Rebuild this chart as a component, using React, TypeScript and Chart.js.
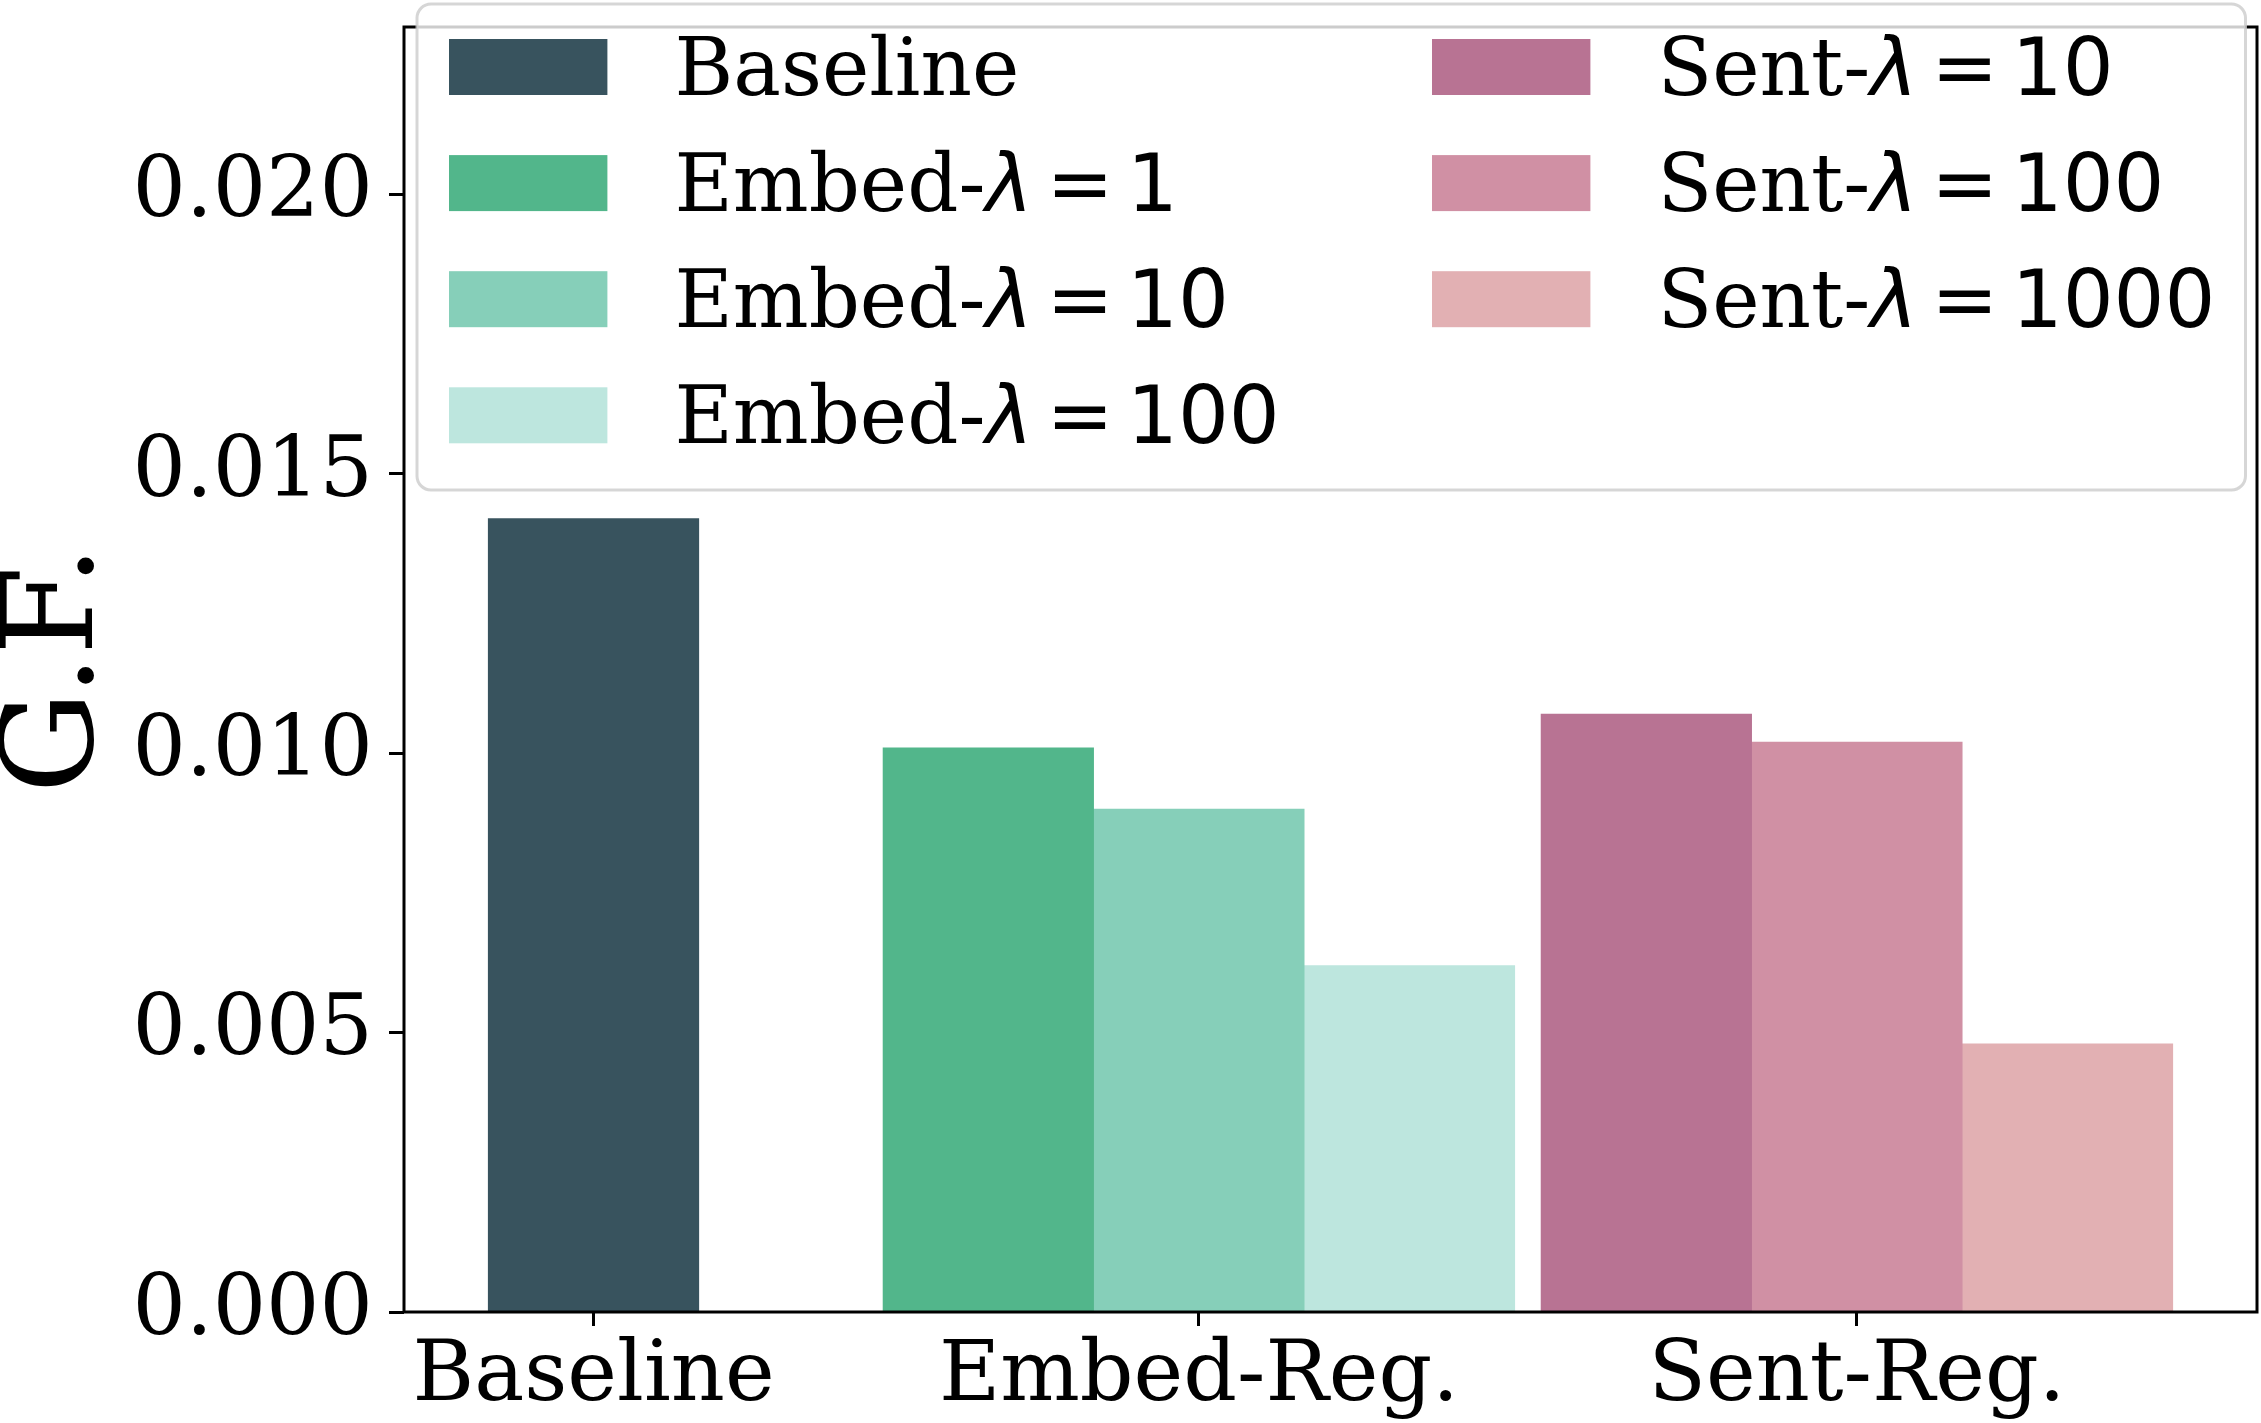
import React, { useEffect, useRef } from 'react';
import { Chart, registerables } from 'chart.js';

Chart.register(...registerables);

// Groups on the x axis and where their centres sit (in bar-width units)
const CATEGORY_LABELS = ['Baseline', 'Embed-Reg.', 'Sent-Reg.'];
const CATEGORY_POSITIONS = [0, 2.875, 6];

// One series per legend entry
const SERIES_LABELS = [
  'Baseline',
  'Embed-λ = 1',
  'Embed-λ = 10',
  'Embed-λ = 100',
  'Sent-λ = 10',
  'Sent-λ = 100',
  'Sent-λ = 1000',
];
const SERIES_CATEGORY = [0, 1, 1, 1, 2, 2, 2];
const SERIES_SLOT = [0, -1, 0, 1, -1, 0, 1];
const SERIES_VALUES = [0.0142, 0.0101, 0.009, 0.0062, 0.0107, 0.0102, 0.0048];
const SERIES_COLORS = ['#38535e', '#52b68b', '#86cfb9', '#bde6de', '#b87393', '#d090a4', '#e2b0b3'];

const Y_MAX = 0.023;
const Y_STEP = 0.005;
const Y_TITLE = 'G.F.';

const SERIF = '"DejaVu Serif", "Liberation Serif", serif';
const SANS = '"DejaVu Sans", "Liberation Sans", sans-serif';

const LEGEND_ROWS_PER_COLUMN = 4;

function drawLegendLabel(ctx: CanvasRenderingContext2D, label: string, x: number, y: number, size: number) {
  const parts = label.split('λ');
  ctx.font = `${size}px ${SERIF}`;
  ctx.fillText(parts[0], x, y);
  if (parts.length < 2) return;
  let cx = x + ctx.measureText(parts[0]).width;
  ctx.font = `oblique ${size}px ${SANS}`;
  ctx.fillText('λ', cx, y);
  cx += ctx.measureText('λ').width;
  ctx.font = `${size}px ${SANS}`;
  const gap = size * 0.17;
  const tokens = parts[1].trim().split(/\s+/);
  tokens.forEach((tok) => {
    cx += gap;
    ctx.fillText(tok, cx, y);
    cx += ctx.measureText(tok).width;
  });
}

// Four black spines drawn over the bars
const framePlugin = {
  id: 'axesFrame',
  afterDatasetsDraw(chart: Chart) {
    const { ctx, chartArea: a } = chart;
    ctx.save();
    ctx.strokeStyle = '#000000';
    ctx.lineWidth = 3;
    ctx.lineJoin = 'miter';
    ctx.strokeRect(a.left, a.top, a.right - a.left, a.bottom - a.top);
    ctx.restore();
  },
};

// Two-column framed legend, filled column by column
const boxLegendPlugin = {
  id: 'boxLegend',
  afterDraw(chart: Chart) {
    const { ctx, chartArea: a } = chart;
    const size = 80;
    const x0 = a.left + 13;
    const y0 = a.top - 23;
    const x1 = a.right - 11.5;
    const y1 = a.top + 463;
    const r = 14;
    ctx.save();
    ctx.beginPath();
    ctx.roundRect(x0, y0, x1 - x0, y1 - y0, r);
    ctx.fillStyle = 'rgba(255,255,255,0.8)';
    ctx.fill();
    ctx.lineWidth = 3;
    ctx.strokeStyle = 'rgba(204,204,204,0.8)';
    ctx.stroke();

    const swW = size * 1.98;
    const swH = size * 0.7;
    const colStep = 983;
    const rowStep = 116.1;
    ctx.textBaseline = 'alphabetic';
    ctx.textAlign = 'left';
    chart.data.datasets.forEach((ds, i) => {
      const col = Math.floor(i / LEGEND_ROWS_PER_COLUMN);
      const row = i % LEGEND_ROWS_PER_COLUMN;
      const sx = x0 + 32 + col * colStep;
      const sy = y0 + 35 + row * rowStep;
      ctx.fillStyle = ds.backgroundColor as string;
      ctx.fillRect(sx, sy, swW, swH);
      ctx.fillStyle = '#000000';
      drawLegendLabel(ctx, ds.label as string, sx + swW + 67, sy + swH, size);
    });
    ctx.restore();
  },
};

export default function App() {
  const canvasRef = useRef<HTMLCanvasElement | null>(null);

  useEffect(() => {
    const canvas = canvasRef.current;
    if (!canvas) return;

    const barCenters = SERIES_CATEGORY.map((c, i) => CATEGORY_POSITIONS[c] + SERIES_SLOT[i]);
    const lo = Math.min(...barCenters) - 0.5;
    const hi = Math.max(...barCenters) + 0.5;
    const margin = (hi - lo) * 0.05;

    const datasets = SERIES_LABELS.map((label, i) => ({
      label,
      data: [{ x: barCenters[i], y: SERIES_VALUES[i] }],
      backgroundColor: SERIES_COLORS[i],
      borderWidth: 0,
      grouped: false,
      categoryPercentage: 1,
      barPercentage: 1,
    }));

    const tickFont = { family: SERIF, size: 84, lineHeight: 1 };

    const chart = new Chart(canvas, {
      type: 'bar',
      data: { datasets },
      options: {
        animation: false,
        responsive: true,
        maintainAspectRatio: false,
        devicePixelRatio: 1,
        layout: { padding: { top: 27, right: 4, left: 0, bottom: 0 } },
        plugins: {
          legend: { display: false },
          tooltip: { enabled: false },
        },
        scales: {
          x: {
            type: 'linear',
            min: lo - margin,
            max: hi + margin,
            offset: false,
            border: { display: false },
            grid: {
              display: true,
              offset: false,
              drawOnChartArea: false,
              drawTicks: true,
              tickLength: 14,
              tickWidth: 3,
              tickColor: '#000000',
            },
            afterBuildTicks: (scale: any) => {
              scale.ticks = CATEGORY_POSITIONS.map((v) => ({ value: v }));
            },
            afterFit: (scale: any) => {
              scale.height = 111;
              scale.paddingLeft = 0;
              scale.paddingRight = 0;
            },
            ticks: {
              autoSkip: false,
              maxRotation: 0,
              minRotation: 0,
              padding: 10,
              color: '#000000',
              font: tickFont,
              callback: (_v: any, idx: number) => CATEGORY_LABELS[idx],
            },
          },
          y: {
            type: 'linear',
            min: 0,
            max: Y_MAX,
            border: { display: false },
            grid: {
              display: true,
              drawOnChartArea: false,
              drawTicks: true,
              tickLength: 15,
              tickWidth: 3,
              tickColor: '#000000',
            },
            afterFit: (scale: any) => {
              scale.width = 404;
              scale.paddingTop = 0;
              scale.paddingBottom = 0;
            },
            ticks: {
              stepSize: Y_STEP,
              includeBounds: false,
              padding: 16,
              color: '#000000',
              font: tickFont,
              callback: (v: any) => Number(v).toFixed(3),
            },
            title: {
              display: true,
              text: Y_TITLE,
              color: '#000000',
              font: { family: SERIF, size: 128, lineHeight: 0.92 },
              padding: { top: 0, bottom: 0 },
            },
          },
        },
      },
      plugins: [framePlugin, boxLegendPlugin],
    } as any);

    return () => chart.destroy();
  }, []);

  return (
    <div
      style={{
        position: 'fixed',
        left: 0,
        top: 0,
        width: '2261px',
        height: '1423px',
        background: '#ffffff',
      }}
    >
      <canvas ref={canvasRef} />
    </div>
  );
}
